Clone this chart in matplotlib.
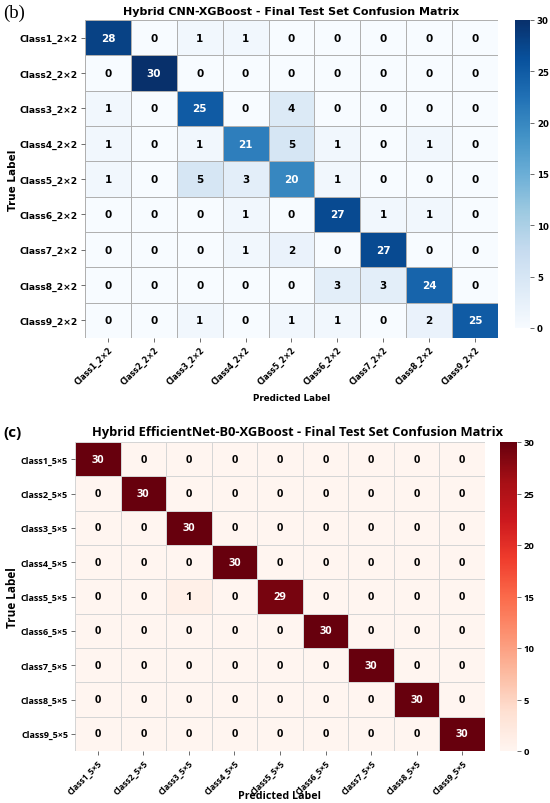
import matplotlib
matplotlib.use("Agg")
import matplotlib.pyplot as plt
import numpy as np

W, H = 550, 804

# --- data ---
labels_b = [f"Class{i}_2×2" for i in range(1, 10)]
cm_b = [
    [28, 0, 1, 1, 0, 0, 0, 0, 0],
    [0, 30, 0, 0, 0, 0, 0, 0, 0],
    [1, 0, 25, 0, 4, 0, 0, 0, 0],
    [1, 0, 1, 21, 5, 1, 0, 1, 0],
    [1, 0, 5, 3, 20, 1, 0, 0, 0],
    [0, 0, 0, 1, 0, 27, 1, 1, 0],
    [0, 0, 0, 1, 2, 0, 27, 0, 0],
    [0, 0, 0, 0, 0, 3, 3, 24, 0],
    [0, 0, 1, 0, 1, 1, 0, 2, 25],
]
title_b = "Hybrid CNN-XGBoost - Final Test Set Confusion Matrix"

labels_c = [f"Class{i}_5×5" for i in range(1, 10)]
cm_c = [
    [30, 0, 0, 0, 0, 0, 0, 0, 0],
    [0, 30, 0, 0, 0, 0, 0, 0, 0],
    [0, 0, 30, 0, 0, 0, 0, 0, 0],
    [0, 0, 0, 30, 0, 0, 0, 0, 0],
    [0, 0, 1, 0, 29, 0, 0, 0, 0],
    [0, 0, 0, 0, 0, 30, 0, 0, 0],
    [0, 0, 0, 0, 0, 0, 30, 0, 0],
    [0, 0, 0, 0, 0, 0, 0, 30, 0],
    [0, 0, 0, 0, 0, 0, 0, 0, 30],
]
title_c = "Hybrid EfficientNet-B0-XGBoost - Final Test Set Confusion Matrix"

cbar_ticks = [0, 5, 10, 15, 20, 25, 30]


def px_axes(fig, left, top, right, bottom):
    """Add axes using pixel coordinates measured from the top-left corner."""
    return fig.add_axes([left / W, 1 - bottom / H, (right - left) / W, (bottom - top) / H])


def draw_matrix(fig, ax, cax, data, labels, cmap, family, sizes, line_color, xlabel_y):
    xtick_size, ytick_size, annot_size, xlab_size, ylab_size, cbar_size = sizes
    data = np.array(data)
    mesh = ax.pcolormesh(data, cmap=cmap, vmin=0, vmax=30,
                         edgecolors=line_color, linewidth=0.7)
    ax.set_xlim(0, data.shape[1])
    ax.set_ylim(data.shape[0], 0)
    for i in range(data.shape[0]):
        for j in range(data.shape[1]):
            v = data[i, j]
            ax.text(j + 0.5, i + 0.5, str(v), ha="center", va="center",
                    color="white" if v > 15 else "black", fontsize=annot_size,
                    fontweight="bold", family=family)
    centers = np.arange(data.shape[0]) + 0.5
    ax.set_xticks(centers)
    ax.set_yticks(centers)
    ax.set_xticklabels(labels, rotation=45, ha="right", va="top",
                       rotation_mode="anchor",
                       fontsize=xtick_size, fontweight="bold", family=family)
    ax.set_yticklabels(labels, rotation=0, fontsize=ytick_size, fontweight="bold",
                       family=family)
    ax.tick_params(length=3, width=0.6, color="#555555", pad=2)
    for s in ax.spines.values():
        s.set_visible(False)
    ax.set_xlabel("Predicted Label", fontsize=xlab_size, fontweight="bold",
                  family=family, va="center")
    ax.xaxis.set_label_coords(0.5, xlabel_y)
    ax.set_ylabel("True Label", fontsize=ylab_size, fontweight="bold",
                  family=family, labelpad=1)

    cb = fig.colorbar(mesh, cax=cax, ticks=cbar_ticks)
    cb.outline.set_visible(False)
    cax.tick_params(length=3, width=0.6, color="#555555", labelsize=cbar_size, pad=2)
    for t in cax.get_yticklabels():
        t.set_fontweight("bold")
        t.set_family(family)
    return mesh


fig = plt.figure(figsize=(W / 100, H / 100), dpi=100)

# --- panel (b) ---
ax_b = px_axes(fig, 85, 21, 498, 339)
cax_b = px_axes(fig, 515, 21, 530, 329)
draw_matrix(fig, ax_b, cax_b, cm_b, labels_b, "Blues", "DejaVu Sans",
            (5.6, 6.6, 7.5, 6.3, 7.5, 6.2), "#b0b0b0", -(399 - 339) / 318)
fig.text(291 / W, 1 - 12 / H, title_b, fontsize=8, fontweight="bold",
         family="DejaVu Sans", ha="center", va="center")
fig.text(3 / W, 1 - 13 / H, "(b)", fontsize=13.5, family="Liberation Serif",
         va="center", ha="left")

# --- panel (c) ---
ax_c = px_axes(fig, 75, 443, 485, 752)
cax_c = px_axes(fig, 500, 443, 517, 752)
draw_matrix(fig, ax_c, cax_c, cm_c, labels_c, "Reds", "Open Sans",
            (6.1, 6.5, 8, 7.7, 8.5, 6.8), "#d5d5d5", -(797 - 752) / 309)
fig.text(298 / W, 1 - 433 / H, title_c, fontsize=9.3, fontweight="bold",
         family="Open Sans", ha="center", va="center")
fig.text(3 / W, 1 - 433 / H, "(c)", fontsize=11, family="Open Sans",
         fontweight="bold", va="center", ha="left")

fig.savefig("out.png", dpi=100)
